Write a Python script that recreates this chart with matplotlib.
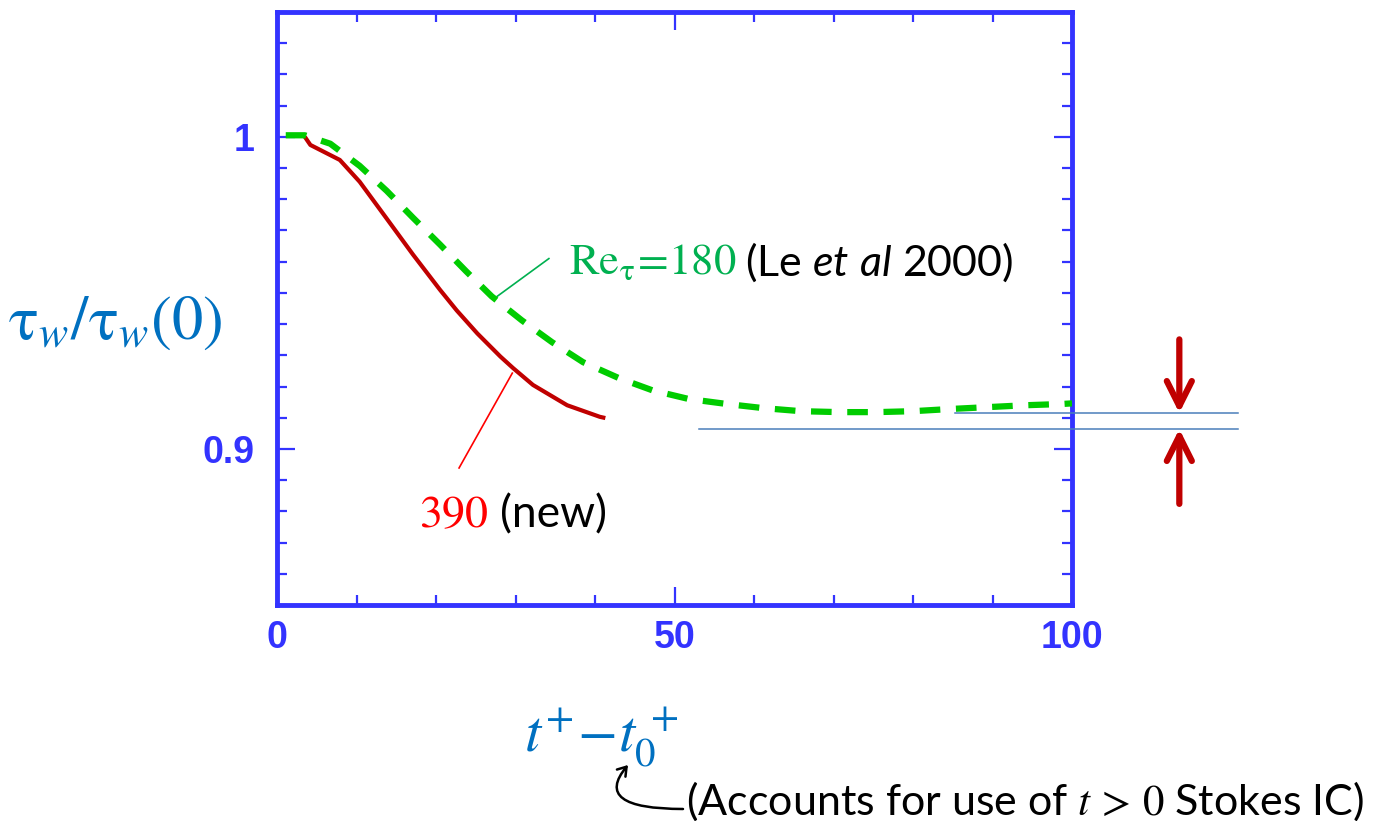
import matplotlib
matplotlib.use("Agg")
import matplotlib.pyplot as plt
from matplotlib.patches import FancyArrowPatch
from matplotlib.ticker import MultipleLocator, FixedLocator

plt.rcParams["mathtext.rm"] = "Lato"
plt.rcParams["mathtext.it"] = "Lato:italic"
plt.rcParams["mathtext.bf"] = "Lato:bold"

# ---------------- data ----------------
green_t = [1.1, 3.5, 6.7, 10.4, 13.8, 17.1, 20.5, 23.8, 27.0, 30.8, 34.6, 38.5,
           43.0, 47.2, 51.8, 56.6, 61.1, 65.9, 70.7, 75.5, 80.0, 84.7, 89.4,
           94.1, 98.7, 100.0]
green_y = [1.0005, 1.0005, 0.9978, 0.9907, 0.9827, 0.9741, 0.9655, 0.9569, 0.9489,
           0.9412, 0.9342, 0.9278, 0.9227, 0.9188, 0.9160, 0.9144, 0.9131, 0.9121,
           0.9118, 0.9118, 0.9121, 0.9128, 0.9134, 0.9140, 0.9144, 0.9146]

red_t = [3.5, 4.2, 7.9, 10.4, 13.8, 17.1, 20.5, 22.6, 25.2, 28.1, 29.7, 32.2,
         36.5, 40.6, 41.3]
red_y = [1.0, 0.9974, 0.9926, 0.9856, 0.9738, 0.9623, 0.9510, 0.9444, 0.9370,
         0.9296, 0.9259, 0.9205, 0.9140, 0.9103, 0.9099]

x_major = [0, 50, 100]
x_major_labels = ["0", "50", "100"]
y_major = [0.9, 1.0]
y_major_labels = ["0.9", "1"]

# gap markers (upper / lower levels)
gap_upper = 0.9115
gap_lower = 0.9064

# ---------------- style ----------------
AX_BLUE = "#3333ff"
LBL_BLUE = "#0070c0"
GREEN_LINE = "#00cc00"
GREEN_TXT = "#00b050"
DARK_RED = "#c00000"
RED_TXT = "#ff0000"
THIN_BLUE = "#4a7ebb"

W, H = 1383, 821
fig = plt.figure(figsize=(W / 100, H / 100), dpi=100)
ax = fig.add_axes([277 / W, 1 - 605 / H, (1072 - 277) / W, (605 - 12) / H])


def fx(px):
    return px / W


def fy(py):
    return 1 - py / H


ax.plot(red_t, red_y, color=DARK_RED, lw=3.0, solid_capstyle="butt",
        solid_joinstyle="round", zorder=3)
ax.plot(green_t, green_y, color=GREEN_LINE, lw=4.5, dashes=(3.3, 2.5), zorder=3)

ax.set_xlim(0, 100)
ax.set_ylim(0.85, 1.04)

for s in ax.spines.values():
    s.set_color(AX_BLUE)
    s.set_linewidth(3.5)

ax.xaxis.set_major_locator(FixedLocator(x_major))
ax.xaxis.set_minor_locator(MultipleLocator(10))
ax.yaxis.set_major_locator(FixedLocator(y_major))
ax.yaxis.set_minor_locator(MultipleLocator(0.01))
ax.set_xticklabels(x_major_labels)
ax.set_yticklabels(y_major_labels)

ax.tick_params(which="both", direction="in", top=True, right=True,
               color=AX_BLUE, width=1.6)
ax.tick_params(which="major", length=13)
ax.tick_params(which="minor", length=7)
ax.tick_params(axis="x", which="major", pad=11)
ax.tick_params(axis="y", which="major", pad=16)
for lab in ax.get_xticklabels() + ax.get_yticklabels():
    lab.set_fontfamily("Liberation Sans")
    lab.set_fontweight("bold")
    lab.set_fontsize(27)
    lab.set_color(AX_BLUE)

# axis labels
ax.set_ylabel(r"$\mathrm{\tau}_w/\mathrm{\tau}_w(0)$", rotation=0, fontsize=45,
              color=LBL_BLUE, math_fontfamily="stix")
ax.yaxis.set_label_coords((115 - 277) / 795, (605 - 322) / 593)
ax.yaxis.label.set_va("center")
ax.yaxis.label.set_ha("center")
ax.set_xlabel(r"$t^{+}\!-\!t_0^{\,+}$", fontsize=42, color=LBL_BLUE,
              math_fontfamily="stix")
ax.xaxis.set_label_coords((601 - 277) / 795, (605 - 738) / 593)
ax.xaxis.label.set_va("center")

# curve annotations
ax.plot([27.7, 34.2], [0.9489, 0.9610], color=GREEN_TXT, lw=1.2, zorder=2)
ax.plot([29.6, 22.9], [0.9243, 0.8939], color=RED_TXT, lw=1.2, zorder=2)

fig.text(fx(569), fy(262), r"$\mathrm{Re}_{\mathrm{\tau}}\!=\!180$", fontsize=32,
         color=GREEN_TXT, math_fontfamily="stix", va="center", ha="left")
fig.text(fx(745), fy(262), r"(Le $\mathit{et\ al}$ 2000)", fontsize=31,
         family="Lato", color="black", math_fontfamily="custom",
         va="center", ha="left")
fig.text(fx(419), fy(515), r"$390$", fontsize=33, color=RED_TXT,
         math_fontfamily="stix", va="center", ha="left")
fig.text(fx(500), fy(515), "(new)", fontsize=32, family="Lato", color="black",
         va="center", ha="left")

# gap indicator
ax.plot([85.3, 120.9], [gap_upper, gap_upper], color=THIN_BLUE, lw=1.1,
        clip_on=False, zorder=4)
ax.plot([53.1, 120.9], [gap_lower, gap_lower], color=THIN_BLUE, lw=1.1,
        clip_on=False, zorder=4)
for y0, y1 in [(0.9351, gap_upper), (0.8824, gap_lower)]:
    ax.annotate("", xy=(113.5, y1), xytext=(113.5, y0),
                arrowprops=dict(arrowstyle="->,head_length=0.9,head_width=0.45",
                                mutation_scale=20,
                                color=DARK_RED, lw=4.5, shrinkA=0, shrinkB=0,
                                capstyle="round", joinstyle="round"),
                annotation_clip=False)

# bottom note
fig.text(fx(686), fy(801), r"(Accounts for use of $t\,>\,0$ Stokes IC)",
         fontsize=31, family="Lato", color="black", math_fontfamily="stix",
         va="center", ha="left")
fig.patches.append(FancyArrowPatch(
    (fx(683), fy(809)), (fx(628), fy(765)), transform=fig.transFigure,
    connectionstyle="angle3,angleA=0,angleB=50",
    arrowstyle="->,head_length=6,head_width=4", color="black", lw=1.8,
    shrinkA=0, shrinkB=0))

fig.savefig("out.png", dpi=100)
